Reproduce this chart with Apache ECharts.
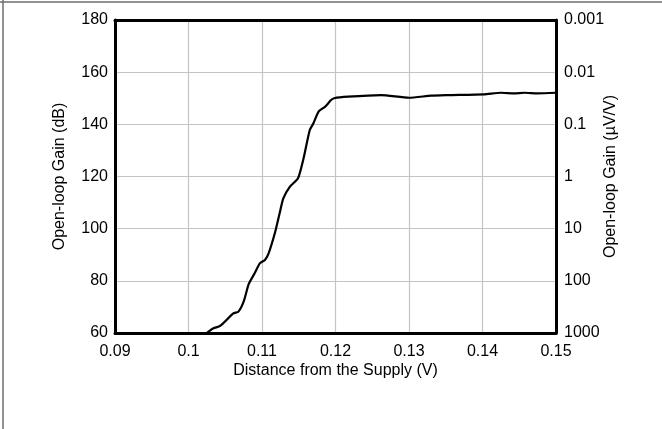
<!DOCTYPE html>
<html>
<head>
<meta charset="utf-8">
<script src="https://cdn.jsdelivr.net/npm/echarts@6/dist/echarts.min.js"></script>
<style>
html,body{margin:0;padding:0;background:#fff;}
#c{width:662px;height:429px;}
</style>
</head>
<body>
<div id="c"></div>
<script>
const distance = [0.1025,0.1034,0.1043,0.1061,0.1068,0.1075,0.1082,0.1090,0.1097,0.1104,0.1109,0.1118,0.1124,0.1129,0.1138,0.1149,0.1156,0.1165,0.1170,0.1177,0.1186,0.1194,0.1198,0.1217,0.1262,0.1300,0.1330,0.1353,0.1402,0.1425,0.1443,0.1457,0.1475,0.1500];
const gainDb = [60,61.8,62.7,67.5,68.2,72,78.8,82.9,86.7,88,90.5,98.8,105.9,111.6,116.1,119.3,126.3,137.8,140.4,144.9,146.8,149.3,150,150.6,151.2,150.2,151,151.2,151.5,152.1,151.9,152.1,151.9,152.1];
const xTicks = [0.09,0.1,0.11,0.12,0.13,0.14,0.15];
const leftTicks = [60,80,100,120,140,160,180];
const rightTicks = ['0.001','0.01','0.1','1','10','100','1000'];

const font = 'Liberation Sans, Arial, sans-serif';
const fs = 16;
const chart = echarts.init(document.getElementById('c'), null, {renderer:'canvas'});
chart.setOption({
  animation:false,
  backgroundColor:'#fff',
  graphic:[
    {type:'line', shape:{x1:0,y1:2,x2:662,y2:2}, style:{stroke:'#6e6e6e',lineWidth:1.5}},
    {type:'line', shape:{x1:3,y1:0,x2:3,y2:429}, style:{stroke:'#6e6e6e',lineWidth:1.5}}
  ],
  grid:{left:115,right:106,top:20,bottom:96,show:false,containLabel:false},
  xAxis:[{
    type:'value', min:0.09, max:0.15, interval:0.01, position:'bottom',
    name:'Distance from the Supply (V)', nameLocation:'middle', nameGap:30, nameMoveOverlap:false,
    nameTextStyle:{fontFamily:font,fontSize:fs,color:'#000'},
    axisLine:{show:true,lineStyle:{color:'#000',width:3}},
    axisTick:{show:false},
    axisLabel:{fontFamily:font,fontSize:fs,color:'#000',margin:11,
      formatter:v=>{const t=xTicks.find(a=>Math.abs(a-v)<1e-9);return t===undefined?'':String(t);}},
    splitLine:{show:true,lineStyle:{color:'#c4c4c4',width:1.2}}
  },{
    type:'value', min:0.09, max:0.15, interval:0.01, position:'top',
    axisLine:{show:true,lineStyle:{color:'#000',width:3}},
    axisTick:{show:false}, axisLabel:{show:false}, splitLine:{show:false}
  }],
  yAxis:[{
    type:'value', min:60, max:180, interval:20, position:'left',
    name:'Open-loop Gain (dB)', nameLocation:'middle', nameGap:47, nameMoveOverlap:false,
    nameTextStyle:{fontFamily:font,fontSize:fs,color:'#000'},
    axisLine:{show:true,lineStyle:{color:'#000',width:3}},
    axisTick:{show:false},
    axisLabel:{fontFamily:font,fontSize:fs,color:'#000',margin:7,
      formatter:v=>leftTicks.includes(v)?String(v):''},
    splitLine:{show:true,lineStyle:{color:'#c4c4c4',width:1.2}}
  },{
    type:'log', logBase:10, min:0.001, max:1000, inverse:true, position:'right',
    name:'Open-loop Gain (µV/V)', nameLocation:'middle', nameGap:47, nameMoveOverlap:false,
    nameTextStyle:{fontFamily:font,fontSize:fs,color:'#000'},
    axisLine:{show:true,lineStyle:{color:'#000',width:3}},
    axisTick:{show:false},
    axisLabel:{fontFamily:font,fontSize:fs,color:'#000',margin:8,
      formatter:v=>{const i=Math.round(Math.log10(v))+3;return rightTicks[i]||'';}},
    splitLine:{show:false}
  }],
  series:[{
    type:'line', xAxisIndex:0, yAxisIndex:0, showSymbol:false, smooth:0.2,
    data:distance.map((d,i)=>[d,gainDb[i]]),
    lineStyle:{color:'#000',width:2.2}
  }]
});
</script>
</body>
</html>
